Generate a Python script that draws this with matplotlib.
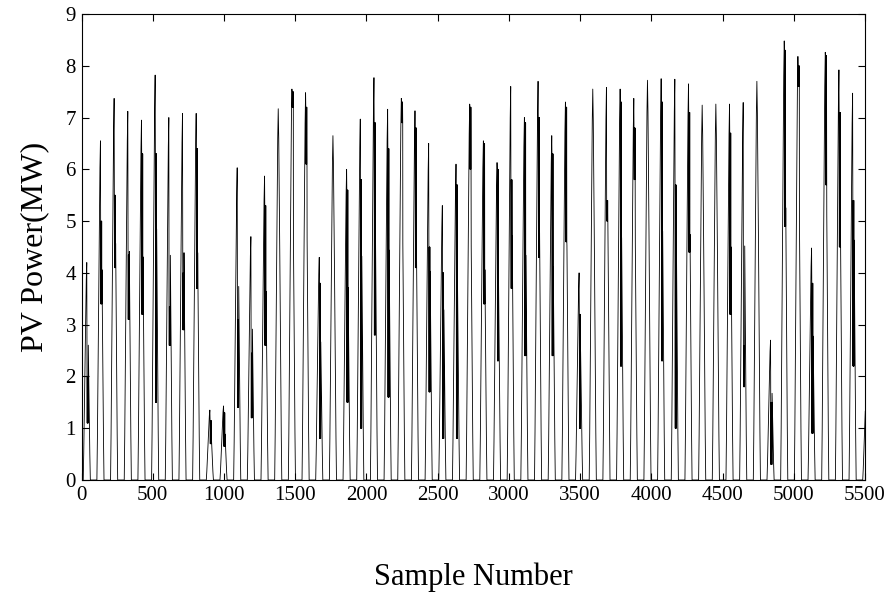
import numpy as np
import matplotlib
matplotlib.use("Agg")
import matplotlib.pyplot as plt

# daily peak power (MW), one per day (96 samples/day)
DAY_PEAK = [4.20, 6.55, 7.37, 7.12, 6.95, 7.82, 7.00, 7.08, 7.08, 1.35,
            1.43, 6.03, 4.70, 5.87, 7.17, 7.55, 7.48, 4.30, 6.65, 6.00,
            6.97, 7.77, 7.16, 7.37, 7.13, 6.50, 5.30, 6.10, 7.26, 6.55,
            6.13, 7.60, 7.00, 7.70, 6.65, 7.30, 4.00, 7.55, 7.58, 7.55,
            7.37, 7.72, 7.75, 7.74, 7.65, 7.24, 7.26, 7.26, 7.29, 7.70,
            2.70, 8.48, 8.18, 4.48, 8.26, 7.92, 7.47, 1.70]
# range of the cloudy (fast fluctuating) stretch of each day, 0/0 = clear day
CLOUD_LO = [1.1, 3.4, 4.1, 3.1, 3.2, 1.5, 2.6, 2.9, 3.7, 0.7,
            0.65, 1.4, 1.2, 2.6, 0.0, 7.2, 6.1, 0.8, 0.0, 1.5,
            1.0, 2.8, 1.6, 6.9, 4.1, 1.7, 0.8, 0.8, 6.0, 3.4,
            2.3, 3.7, 2.4, 4.3, 2.4, 4.6, 1.0, 0.0, 5.0, 2.2,
            5.8, 0.0, 2.3, 1.0, 4.4, 0.0, 0.0, 3.2, 1.8, 0.0,
            0.3, 4.9, 7.6, 0.9, 5.7, 4.5, 2.2, 0.3]
CLOUD_HI = [2.0, 5.0, 5.5, 4.35, 6.3, 6.3, 3.35, 4.0, 6.4, 1.15,
            1.3, 3.1, 2.45, 5.3, 0.0, 7.5, 7.2, 3.8, 0.0, 5.6,
            5.8, 6.9, 6.4, 7.3, 6.8, 4.5, 4.0, 5.7, 7.2, 6.5,
            6.0, 5.8, 6.9, 7.0, 6.3, 7.2, 3.2, 0.0, 5.4, 7.3,
            6.8, 0.0, 7.3, 5.7, 7.1, 0.0, 0.0, 6.7, 2.6, 0.0,
            1.5, 8.3, 8.0, 3.8, 8.2, 7.1, 5.4, 1.0]
# clear-sky shape of the morning half of a day, as fraction of the peak
RISE_FRAC = [0.0, 0.12, 0.28, 0.45, 0.62, 0.78, 0.92, 1.0]

SAMPLES_PER_DAY = 96
FIRST_PEAK = 37
HALF_DAY = 25
N_SAMPLES = 5500


def day_vertices(d):
    c = FIRST_PEAK + SAMPLES_PER_DAY * d
    pk, lo, hi = DAY_PEAK[d], CLOUD_LO[d], CLOUD_HI[d]
    step = HALF_DAY / (len(RISE_FRAC) - 1)
    xs = [c - HALF_DAY + i * step for i in range(len(RISE_FRAC))]
    ys = [f * pk for f in RISE_FRAC]
    end = 0.0
    if hi > lo:
        # cloud passages: line swings between hi and lo
        for k in range(8):
            xs.append(c + 1.5 + k * 1.2)
            ys.append(hi if k % 2 == 0 else lo)
        end = 1.5 + 7 * 1.2
    for i, f in enumerate(RISE_FRAC[::-1][1:], 1):
        if i * step > end:
            xs.append(c + i * step)
            ys.append(f * pk)
    return xs, ys


def main():
    plt.rcParams["font.family"] = ["Liberation Serif", "DejaVu Serif"]
    x, y = [0.0], [0.0]
    for d in range(len(DAY_PEAK)):
        xs, ys = day_vertices(d)
        x += xs; y += ys

    fig = plt.figure(figsize=(8.93, 6.07), dpi=100)
    ax = fig.add_axes([81.5 / 893, 1 - 480 / 607, (865 - 81.5) / 893, (480 - 14) / 607])
    ax.plot(x, y, color="black", lw=0.6)
    ax.set_xlim(0, N_SAMPLES); ax.set_ylim(0, 9)
    ax.set_xticks(np.arange(0, 5501, 500))
    ax.set_yticks(np.arange(0, 10, 1))
    ax.tick_params(direction="in", top=True, right=True, length=5, width=0.8,
                   labelsize=15, pad=4)
    for s in ax.spines.values():
        s.set_linewidth(0.8)
    ax.set_xlabel("Sample Number", fontsize=22, labelpad=42)
    ax.set_ylabel("PV Power(MW)", fontsize=23, labelpad=12)
    fig.savefig("out.png", dpi=100)


if __name__ == "__main__":
    main()
